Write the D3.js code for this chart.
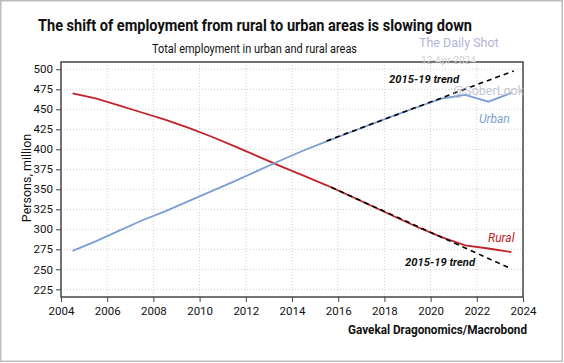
<!DOCTYPE html>
<html>
<head>
<meta charset="utf-8">
<script src="https://cdn.jsdelivr.net/npm/d3@7"></script>
<style>
  body { margin: 0; background: #fff; }
  text { font-family: Roboto, "Open Sans", sans-serif; }
</style>
</head>
<body>
<div id="chart"></div>
<script>
// chart data (annual values, plotted at mid-year)
var years = [2004.5, 2005.5, 2006.5, 2007.5, 2008.5, 2009.5, 2010.5, 2011.5, 2012.5, 2013.5,
  2014.5, 2015.5, 2016.5, 2017.5, 2018.5, 2019.5, 2020.5, 2021.5, 2022.5, 2023.5];
var urban = [273, 285, 298, 311, 322.5, 335, 347.5, 360, 373, 386,
  398.5, 410, 421, 432, 443, 453.5, 463.5, 468, 459.5, 470.5];
var rural = [470, 463.5, 455, 446, 437, 427, 416, 404, 391.5, 379,
  367, 355, 342, 328.5, 315, 302, 290, 280, 276, 271.5];

// 2015-19 trend lines (start and end points)
var urbanTrendYears = [2015.5, 2023.6];
var urbanTrend = [410.5, 498];
var ruralTrendYears = [2015.7, 2023.5];
var ruralTrend = [352.5, 250.5];

var xTicks = [2004, 2006, 2008, 2010, 2012, 2014, 2016, 2018, 2020, 2022, 2024];
var yTicks = [225, 250, 275, 300, 325, 350, 375, 400, 425, 450, 475, 500];

var svgWidth = 564;
var svgHeight = 363;

var margin = { top: 62, right: 41, bottom: 66, left: 61 };
var width = svgWidth - margin.left - margin.right;
var height = svgHeight - margin.top - margin.bottom;

var red = "#c1232b";
var blue = "#7b9fd3";

var svg = d3.select("#chart")
  .append("svg")
  .attr("width", svgWidth)
  .attr("height", svgHeight);

// outer border
svg.append("rect")
  .attr("x", 0.75).attr("y", 0.75)
  .attr("width", svgWidth - 2.5).attr("height", svgHeight - 2.5)
  .attr("fill", "none")
  .attr("stroke", "#bdbdbd")
  .attr("stroke-width", 1.5);

// titles
svg.append("text")
  .attr("x", 38).attr("y", 31)
  .attr("textLength", 434).attr("lengthAdjust", "spacingAndGlyphs")
  .attr("font-size", "17px").attr("font-weight", "bold")
  .attr("fill", "#111")
  .text("The shift of employment from rural to urban areas is slowing down");

svg.append("text")
  .attr("x", 152).attr("y", 52.5)
  .attr("textLength", 205).attr("lengthAdjust", "spacingAndGlyphs")
  .attr("font-size", "12.5px")
  .attr("fill", "#111")
  .text("Total employment in urban and rural areas");

var chartGroup = svg.append("g")
  .attr("transform", `translate(${margin.left}, ${margin.top})`);

var x = d3.scaleLinear().domain([2004, 2024]).range([0, width]);
var y = d3.scaleLinear().domain([215.4, 509.1]).range([height, 0]);

// dotted grid
chartGroup.append("g")
  .selectAll("line")
  .data(xTicks.slice(1, -1))
  .enter()
  .append("line")
  .attr("x1", d => x(d)).attr("x2", d => x(d))
  .attr("y1", 0).attr("y2", height)
  .attr("stroke", "#cfcfcf")
  .attr("stroke-dasharray", "1,2");

chartGroup.append("g")
  .selectAll("line")
  .data(yTicks)
  .enter()
  .append("line")
  .attr("x1", 0).attr("x2", width)
  .attr("y1", d => y(d)).attr("y2", d => y(d))
  .attr("stroke", "#cfcfcf")
  .attr("stroke-dasharray", "1,2");

// axes
var bottomAxis = d3.axisBottom(x)
  .tickValues(xTicks)
  .tickSize(5)
  .tickPadding(5)
  .tickFormat(d3.format("d"));

var leftAxis = d3.axisLeft(y)
  .tickValues(yTicks)
  .tickSize(5)
  .tickPadding(3);

var xAxis = chartGroup.append("g")
  .attr("transform", `translate(0, ${height})`)
  .call(bottomAxis);

var yAxis = chartGroup.append("g")
  .call(leftAxis);

[xAxis, yAxis].forEach(function(ax) {
  ax.select(".domain").remove();
  ax.selectAll("line").attr("stroke", "#444");
  ax.selectAll("text")
    .attr("font-family", "Roboto, sans-serif")
    .attr("font-size", "11.5px")
    .attr("fill", "#111");
});

// lines
var line = d3.line()
  .x(d => x(d[0]))
  .y(d => y(d[1]));

chartGroup.append("path")
  .datum(d3.zip(years, rural))
  .attr("fill", "none")
  .attr("stroke", red)
  .attr("stroke-width", 1.8)
  .attr("d", line);

chartGroup.append("path")
  .datum(d3.zip(years, urban))
  .attr("fill", "none")
  .attr("stroke", blue)
  .attr("stroke-width", 1.8)
  .attr("d", line);

// trend lines on top
[d3.zip(urbanTrendYears, urbanTrend), d3.zip(ruralTrendYears, ruralTrend)].forEach(function(t) {
  chartGroup.append("path")
    .datum(t)
    .attr("fill", "none")
    .attr("stroke", "#000")
    .attr("stroke-width", 1.6)
    .attr("stroke-dasharray", "5,4")
    .attr("d", line);
});

// plot frame
chartGroup.append("rect")
  .attr("width", width).attr("height", height)
  .attr("fill", "none")
  .attr("stroke", "#444")
  .attr("stroke-width", 1.5);

// line labels
svg.append("text")
  .attr("x", 479).attr("y", 122.5)
  .attr("font-size", "12px").attr("font-style", "italic")
  .attr("fill", blue)
  .text("Urban");

svg.append("text")
  .attr("x", 488).attr("y", 241.5)
  .attr("font-size", "12px").attr("font-style", "italic")
  .attr("fill", red)
  .text("Rural");

svg.append("text")
  .attr("x", 389).attr("y", 82.5)
  .attr("textLength", 70).attr("lengthAdjust", "spacingAndGlyphs")
  .attr("font-size", "11.5px").attr("font-style", "italic").attr("font-weight", "bold")
  .attr("fill", "#111")
  .text("2015-19 trend");

svg.append("text")
  .attr("x", 405).attr("y", 266)
  .attr("textLength", 70).attr("lengthAdjust", "spacingAndGlyphs")
  .attr("font-size", "11.5px").attr("font-style", "italic").attr("font-weight", "bold")
  .attr("fill", "#111")
  .text("2015-19 trend");

// y axis title
svg.append("text")
  .attr("transform", "translate(31, 178) rotate(-90)")
  .attr("text-anchor", "middle")
  .attr("font-size", "12.5px")
  .attr("fill", "#111")
  .text("Persons, million");

// source
svg.append("text")
  .attr("x", 348).attr("y", 334)
  .attr("textLength", 179).attr("lengthAdjust", "spacingAndGlyphs")
  .attr("font-size", "12px").attr("font-weight", "bold")
  .attr("fill", "#111")
  .text("Gavekal Dragonomics/Macrobond");

// watermark
svg.append("text")
  .attr("x", 419).attr("y", 47)
  .attr("font-family", "'Liberation Sans', Arial, sans-serif")
  .attr("font-size", "12.5px")
  .attr("fill", "#b4b4d6")
  .text("The Daily Shot");

svg.append("text")
  .attr("x", 421).attr("y", 64)
  .attr("font-family", "'Liberation Sans', Arial, sans-serif")
  .attr("font-size", "10px")
  .attr("fill", "#d2d2d2")
  .text("12-Apr-2024");

svg.append("text")
  .attr("x", 453).attr("y", 95)
  .attr("font-family", "'Liberation Sans', Arial, sans-serif")
  .attr("font-size", "12.5px")
  .attr("fill", "#b9b9cc")
  .attr("opacity", 0.8)
  .text("@SoberLook");
</script>
</body>
</html>
